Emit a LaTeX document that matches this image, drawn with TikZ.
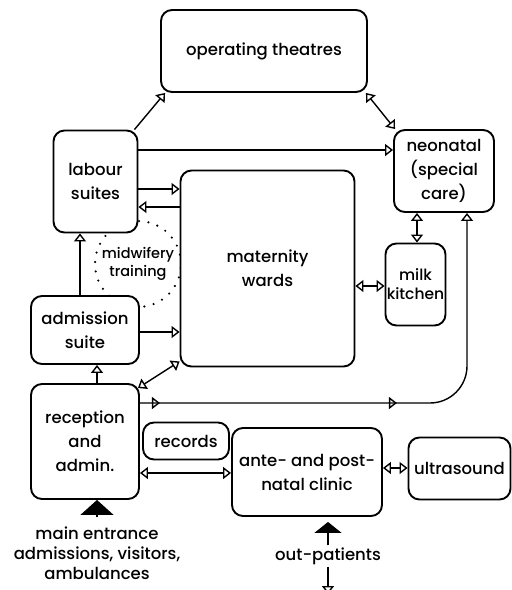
\documentclass[tikz,border=0pt]{standalone}
\usepackage{fontspec}
\setmainfont{Poppins Medium}
\usetikzlibrary{arrows.meta,decorations.markings}

\begin{document}
\begin{tikzpicture}[
        x=1pt, y=-1pt,
        room/.style={draw, line width=1.9pt, rounded corners=11pt, fill=white, align=center, inner sep=0pt, font=\fontsize{16.5}{24}\selectfont},
        note/.style={align=center, inner sep=2pt, font=\fontsize{16.5}{20}\selectfont},
        link/.style={-{Triangle[open, length=8pt, width=12pt]}, line width=1.4pt},
        twoway/.style={{Triangle[open, length=8pt, width=12pt]}-{Triangle[open, length=8pt, width=12pt]}, line width=1.4pt},
        entry/.style={line width=1.4pt}
    ]
        \path[use as bounding box] (0, 0) rectangle (512, 590);

        \node[circle, draw, line width=2.4pt, dash pattern=on 0pt off 9.5pt, line cap=round, minimum size=86pt, align=center, inner sep=0pt, font=\fontsize{14.5}{18}\selectfont] (mid) at (138, 264) {midwifery\\training};

        \node[room, minimum width=206pt, minimum height=82pt] (ot) at (264, 51) {operating theatres};
        \node[room, minimum width=84pt, minimum height=102pt] (lab) at (95.5, 181.5) {labour\\suites};
        \node[room, minimum width=100pt, minimum height=82pt] (neo) at (444, 171) {neonatal\\(special\\care)};
        \node[room, minimum width=174pt, minimum height=196pt] (mat) at (267.5, 268.5) {maternity\\wards};
        \node[room, minimum width=60pt, minimum height=82pt, font=\fontsize{15.5}{19}\selectfont] (milk) at (415.5, 284.5) {milk\\kitchen};
        \node[room, minimum width=108pt, minimum height=68pt] (adm) at (85, 330) {admission\\suite};
        \node[room, minimum width=108pt, minimum height=115pt] (rec) at (85, 441.5) {reception\\and\\admin.};
        \node[room, minimum width=86pt, minimum height=37pt] (recs) at (186, 441) {records};
        \node[room, minimum width=150pt, minimum height=88pt] (ante) at (307, 472) {ante- and post-\\natal clinic};
        \node[room, minimum width=102pt, minimum height=62pt] (ultra) at (459.5, 468.5) {ultrasound};

        \node[note] (entr) at (97, 553) {main entrance\\admissions, visitors,\\ambulances};
        \node[note] (outp) at (328, 556) {out-patients};

        % links between rooms
        \draw[link] ([xshift=-4pt]lab.north east) -- ([xshift=5pt]ot.south west);
        \draw[twoway] ([xshift=-2pt]ot.south east) -- ([xshift=2pt]neo.north west);
        \draw[link] (lab.east |- 0,150) -- (neo.west |- 0,150);
        \draw[link] (lab.east |- 0,189) -- (mat.west |- 0,189);
        \draw[link] (mat.west |- 0,207) -- (lab.east |- 0,207);
        \draw[link] (adm.north -| 80,0) -- (lab.south -| 80,0);
        \draw[link] (adm.east |- 0,332) -- (mat.west |- 0,332);
        \draw[link] (rec.north -| 97,0) -- (adm.south -| 97,0);
        \draw[twoway] ([xshift=-2pt, yshift=-5pt]rec.north east) -- ([yshift=6pt]mat.south west);
        \draw[twoway] (mat.east |- 0,286) -- (milk.west |- 0,286);
        \draw[twoway] (neo.south -| 417,0) -- (milk.north -| 417,0);
        \draw[twoway] (rec.east |- 0,473) -- (ante.west |- 0,473);
        \draw[twoway] (ante.east |- 0,468) -- (ultra.west |- 0,468);
        \draw[link, rounded corners=37pt, postaction={decorate}, decoration={markings,
                mark=at position 20pt with {\arrow{Triangle[open, length=8pt, width=12pt]}},
                mark=at position 257pt with {\arrow{Triangle[open, length=8pt, width=12pt]}}}]
            (rec.east |- 0,403) -- (467,403) -- (neo.south -| 467,0);

        % entrances
        \draw[entry, -{Triangle[length=15pt, width=33pt]}, shorten <=7pt] (entr.north) -- (rec.south -| entr.north);
        \draw[entry, -{Triangle[length=11pt, width=27pt]}, shorten >=5pt] (outp.north) -- (ante.south -| outp.north);
        \draw[link] (outp.south) -- (outp.south |- 0,594);
    \end{tikzpicture}
\end{document}
